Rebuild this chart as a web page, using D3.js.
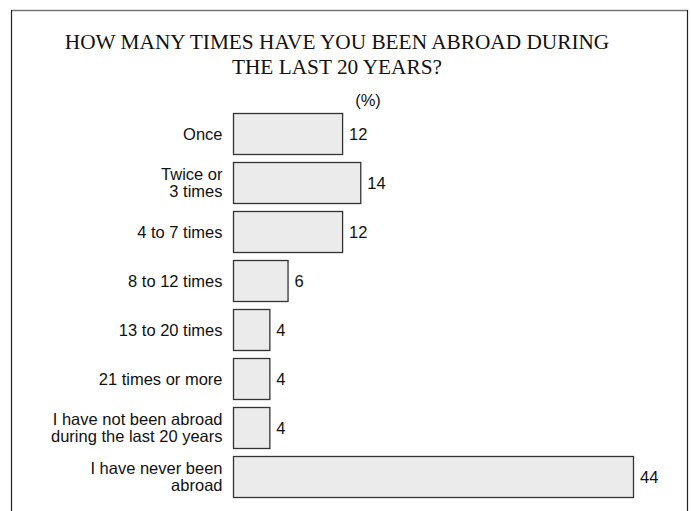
<!DOCTYPE html>
<html><head><meta charset="utf-8">
<script src="https://cdn.jsdelivr.net/npm/d3@7"></script>
<style>body{margin:0;background:#fff}svg{display:block}</style>
</head><body>
<svg id="c" width="691" height="511"></svg>
<script>
const categories = [
  ["Once"],
  ["Twice or", "3 times"],
  ["4 to 7 times"],
  ["8 to 12 times"],
  ["13 to 20 times"],
  ["21 times or more"],
  ["I have not been abroad", "during the last 20 years"],
  ["I have never been", "abroad"]
];
const values = [12, 14, 12, 6, 4, 4, 4, 44];
const titleLines = ["HOW MANY TIMES HAVE YOU BEEN ABROAD DURING", "THE LAST 20 YEARS?"];
const unitLabel = "(%)";

const sans = "Liberation Sans, Arial, sans-serif";
const fs = 16.5;
const svg = d3.select("#c");
// frame
svg.append("line").attr("x1", 11).attr("x2", 688).attr("y1", 10.5).attr("y2", 10.5).attr("stroke", "#777").attr("stroke-width", 1.5);
svg.append("line").attr("x1", 11.5).attr("x2", 11.5).attr("y1", 10).attr("y2", 511).attr("stroke", "#222").attr("stroke-width", 1.2);
svg.append("line").attr("x1", 687.5).attr("x2", 687.5).attr("y1", 10).attr("y2", 511).attr("stroke", "#222").attr("stroke-width", 1.2);

// title
const ty = [49, 74];
titleLines.forEach((t, i) => {
  svg.append("text").attr("x", 337).attr("y", ty[i]).attr("text-anchor", "middle")
    .attr("font-family", "Liberation Serif, Times New Roman, serif").attr("font-size", 21.3)
    .attr("fill", "#111").text(t);
});
svg.append("text").attr("x", 368).attr("y", 106).attr("text-anchor", "middle")
  .attr("font-family", sans).attr("font-size", fs).attr("fill", "#111").text(unitLabel);

const x = d3.scaleLinear().domain([0, 44]).range([233, 633]);
const y = d3.scaleBand().domain(d3.range(values.length)).range([113, 497]).paddingInner(8 / 49).paddingOuter(0);

const g = svg.append("g");
g.selectAll("rect").data(values).join("rect")
  .attr("x", x(0) + 0.5).attr("y", (d, i) => y(i) + 0.5)
  .attr("width", d => x(d) - x(0)).attr("height", y.bandwidth())
  .attr("fill", "#ebebeb").attr("stroke", "#333").attr("stroke-width", 1.3);

g.selectAll("text.v").data(values).join("text").attr("class", "v")
  .attr("x", d => x(d) + 7).attr("y", (d, i) => y(i) + y.bandwidth() / 2 + 6)
  .attr("font-family", sans).attr("font-size", fs).attr("fill", "#111")
  .text(d => d);

const lh = 16.5;
categories.forEach((lines, i) => {
  const cy = y(i) + y.bandwidth() / 2;
  const t = g.append("text").attr("text-anchor", "end")
    .attr("font-family", sans).attr("font-size", fs).attr("fill", "#111");
  lines.forEach((l, j) => {
    t.append("tspan").attr("x", 222.5).attr("y", cy + 6 + (j - (lines.length - 1) / 2) * lh).text(l);
  });
});
</script>
</body></html>
